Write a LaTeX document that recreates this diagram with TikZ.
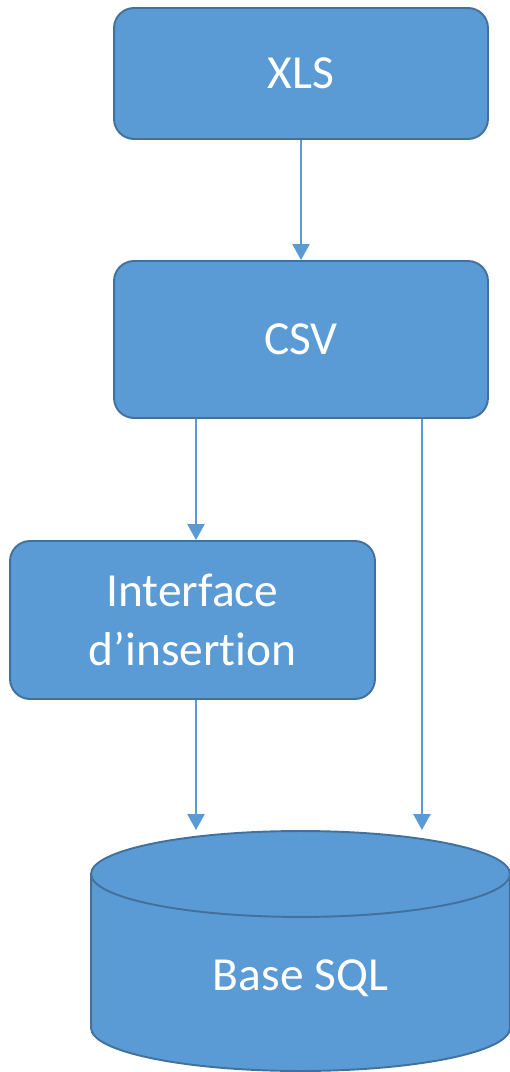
\documentclass[tikz,border=0pt]{standalone}
\usepackage{fontspec}
\setmainfont{Carlito}[Ligatures = NoCommon]
\usetikzlibrary{positioning,shapes.geometric,arrows.meta}
\definecolor{boxblue}{HTML}{5B9BD5}
\definecolor{boxedge}{HTML}{41719C}
\tikzset{
    stepbox/.style = {draw = boxedge, fill = boxblue, line width = 1.1pt, rounded corners = 0.4cm,
                      text = white, font = \fontsize{27}{34}\selectfont, align = center},
    flow/.style    = {draw = boxblue, line width = 1.4pt, -{Triangle[length = 0.32cm, width = 0.34cm]}}
}
\begin{document}
\begin{tikzpicture}[x = 0.02cm, y = -0.02cm]
    \useasboundingbox (0,0) rectangle (510,1072);
    \node [stepbox, minimum width = 7.48cm, minimum height = 2.62cm] (xls)   at (301,73.5)  {XLS};
    \node [stepbox, minimum width = 7.48cm, minimum height = 3.14cm] (csv)   at (301,339.5) {CSV};
    \node [stepbox, minimum width = 7.3cm,  minimum height = 3.16cm] (iface) at (192.5,620) {Interface\\d’insertion};
    \node [draw = boxedge, fill = boxblue, line width = 1.1pt, shape = cylinder, shape border rotate = 90,
           aspect = 0.46, minimum width = 8.38cm, minimum height = 4.8cm,
           text = white, font = \fontsize{27}{34}\selectfont] (sql) at (300.5,978) {Base SQL};
    \draw [flow] (xls) -- (csv);
    \draw [flow] ([xshift = 0.07cm]iface.north |- csv.south) -- ([xshift = 0.07cm]iface.north);
    \draw [flow] ([xshift = 0.07cm]iface.south) -- ([xshift = 0.07cm]iface.south |- sql.north);
    \draw [flow] ([xshift = -1.34cm]csv.south east) -- ([xshift = -1.34cm]csv.south east |- sql.north);
\end{tikzpicture}
\end{document}
